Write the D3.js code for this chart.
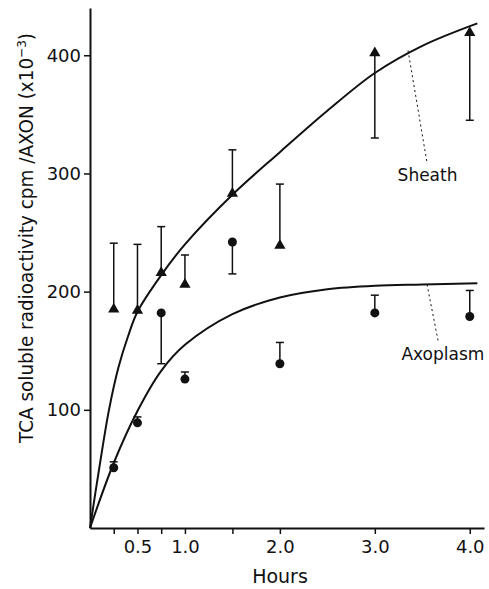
<!DOCTYPE html>
<html>
<head>
<meta charset="utf-8">
<script src="https://cdn.jsdelivr.net/npm/d3@7"></script>
<style>
  body { margin: 0; background: #fff; }
  text { font-family: "DejaVu Sans", sans-serif; fill: #111; }
</style>
</head>
<body>
<script>
const width = 489;
const height = 589;

// measured points
const hours = [0.25, 0.5, 0.75, 1.0, 1.5, 2.0, 3.0, 4.0];
const sheathMean = [185, 184, 216, 206, 283, 239, 402, 419];
const sheathErr = [241, 240, 255, 231, 320, 291, 330, 345];
const axoMean = [51, 89, 182, 126, 242, 139, 182, 179];
const axoErr = [56, 94, 139, 132, 215, 157, 197, 201];

// fitted curves
const sheathCurveX = [0, 0.1, 0.2, 0.3, 0.4, 0.5, 0.75, 1.0, 1.5, 2.0, 2.5, 3.0, 3.5, 4.08];
const sheathCurveY = [0, 52, 100, 136, 162, 183, 214, 240, 282, 318, 353, 385, 408, 427];
const axoCurveX = [0, 0.25, 0.5, 0.75, 1.0, 1.5, 2.0, 2.5, 3.0, 3.5, 4.08];
const axoCurveY = [0, 55, 99, 133, 155, 181, 195, 202, 205, 206, 207];

const xTicks = [0.25, 0.5, 0.75, 1.0, 1.5, 2.0, 3.0, 4.0];
const xLabelled = [0.5, 1.0, 2.0, 3.0, 4.0];
const yTicks = [100, 200, 300, 400];

const svg = d3.select("body").append("svg")
  .attr("width", width)
  .attr("height", height);

const x = d3.scaleLinear().domain([0, 4.15]).range([90, 484]);
const y = d3.scaleLinear().domain([0, 440]).range([528, 8]);

// axes
const xAxis = svg.append("g")
  .attr("transform", `translate(0,${y(0)})`)
  .call(d3.axisBottom(x)
    .tickValues(xTicks)
    .tickSize(6)
    .tickSizeOuter(0)
    .tickPadding(6)
    .tickFormat(d => xLabelled.includes(d) ? d3.format(".1f")(d) : ""));

const yAxis = svg.append("g")
  .attr("transform", `translate(${x(0)},0)`)
  .call(d3.axisLeft(y)
    .tickValues(yTicks)
    .tickSize(6)
    .tickSizeOuter(0)
    .tickPadding(3));

[xAxis, yAxis].forEach(a => {
  a.select(".domain").attr("stroke", "#111").attr("stroke-width", 2);
  a.selectAll(".tick line").attr("stroke", "#111").attr("stroke-width", 1.5);
  a.selectAll(".tick text").style("font-size", "18px").attr("fill", "#111");
});

// axis titles
svg.append("text")
  .attr("x", 280)
  .attr("y", 583)
  .attr("text-anchor", "middle")
  .style("font-size", "19px")
  .text("Hours");

const yTitle = svg.append("text")
  .attr("transform", "translate(33,238) rotate(-90)")
  .attr("text-anchor", "middle")
  .attr("textLength", 410)
  .attr("lengthAdjust", "spacingAndGlyphs")
  .style("font-size", "20px");
yTitle.append("tspan").text("TCA soluble radioactivity  cpm /AXON (x10");
yTitle.append("tspan").attr("dy", -7).style("font-size", "13px").text("−3");
yTitle.append("tspan").attr("dy", 7).text(")");

// curves
const line = d3.line().x(d => x(d[0])).y(d => y(d[1])).curve(d3.curveCatmullRom.alpha(0.5));

svg.append("path")
  .datum(d3.zip(sheathCurveX, sheathCurveY))
  .attr("d", line)
  .attr("fill", "none")
  .attr("stroke", "#111")
  .attr("stroke-width", 2);

svg.append("path")
  .datum(d3.zip(axoCurveX, axoCurveY))
  .attr("d", line)
  .attr("fill", "none")
  .attr("stroke", "#111")
  .attr("stroke-width", 2);

// error bars
function errorBars(means, errs) {
  const g = svg.append("g").attr("stroke", "#111");
  hours.forEach((h, i) => {
    g.append("line")
      .attr("x1", x(h)).attr("x2", x(h))
      .attr("y1", y(means[i])).attr("y2", y(errs[i]))
      .attr("stroke-width", 1.5);
    g.append("line")
      .attr("x1", x(h) - 4).attr("x2", x(h) + 4)
      .attr("y1", y(errs[i])).attr("y2", y(errs[i]))
      .attr("stroke-width", 1.5);
  });
}
errorBars(sheathMean, sheathErr);
errorBars(axoMean, axoErr);

// markers
svg.append("g").selectAll("path")
  .data(hours)
  .join("path")
  .attr("transform", (d, i) => `translate(${x(d)},${y(sheathMean[i])})`)
  .attr("d", d3.symbol(d3.symbolTriangle, 55))
  .attr("fill", "#111");

svg.append("g").selectAll("circle")
  .data(hours)
  .join("circle")
  .attr("cx", d => x(d))
  .attr("cy", (d, i) => y(axoMean[i]))
  .attr("r", 4.5)
  .attr("fill", "#111");

// labels with dotted leaders
const leaders = [
  { from: [3.35, 404], to: [3.55, 309], label: "Sheath", at: [3.24, 294] },
  { from: [3.55, 206], to: [3.67, 157], label: "Axoplasm", at: [3.28, 142] }
];

leaders.forEach(l => {
  svg.append("line")
    .attr("x1", x(l.from[0])).attr("y1", y(l.from[1]))
    .attr("x2", x(l.to[0])).attr("y2", y(l.to[1]))
    .attr("stroke", "#111")
    .attr("stroke-width", 1)
    .attr("stroke-dasharray", "2,3");
  svg.append("text")
    .attr("x", x(l.at[0]))
    .attr("y", y(l.at[1]))
    .style("font-size", "17px")
    .text(l.label);
});
</script>
</body>
</html>
